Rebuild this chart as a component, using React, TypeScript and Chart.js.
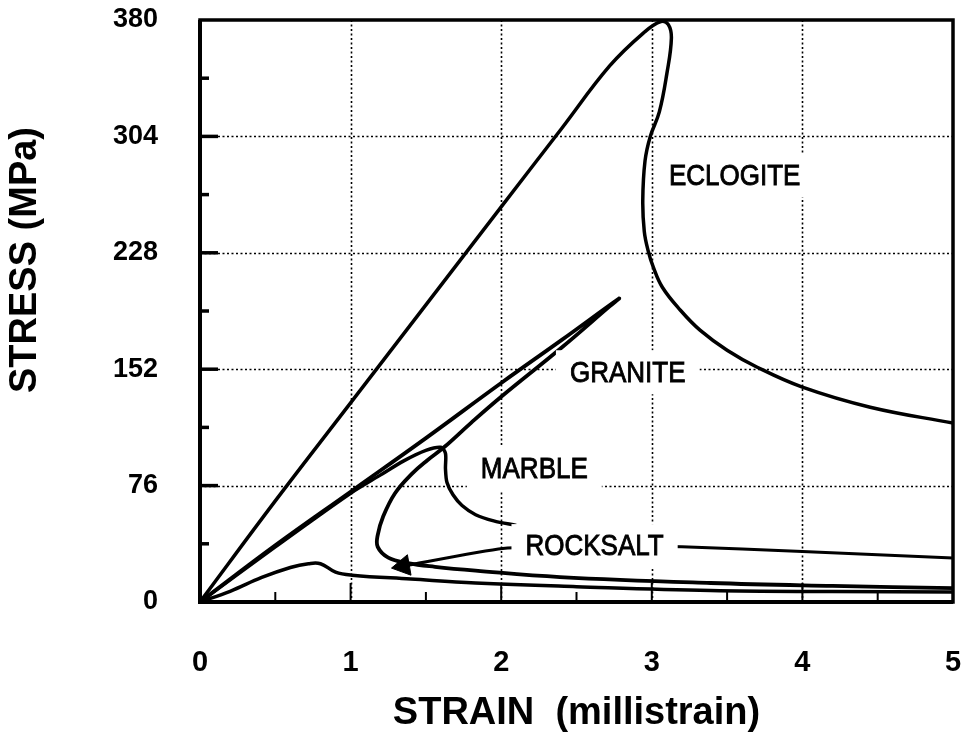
import React, { useEffect, useRef } from "react";
import { Chart, registerables } from "chart.js";

Chart.register(...registerables);

// ---- axis ticks ----
const X_TICKS = [0, 1, 2, 3, 4, 5];
const X_MINOR = [0.5, 1.5, 2.5, 3.5, 4.5];
const Y_TICKS = [0, 76, 152, 228, 304, 380];
const Y_MINOR = [38, 114, 190, 266, 342];

// ---- series (strain in millistrain, stress in MPa) ----
const eclogiteStrain = [0, 0.5, 1.0, 1.5, 2.0, 2.4, 2.72, 2.95, 3.06, 3.11, 3.13, 3.1, 3.05, 2.99, 2.955, 2.94, 2.95, 2.975, 3.01, 3.07, 3.19, 3.32, 3.5, 3.7, 4.0, 4.45, 5.0];
const eclogiteStress = [0, 66, 130, 194, 258, 309, 350, 372, 379, 377, 368, 345, 320, 304, 288, 262, 242, 229.6, 218.6, 205.5, 190.5, 177.5, 164.4, 153.3, 140.3, 127.2, 116.8];

const graniteStrain = [0, 0.5, 1.0, 1.5, 2.0, 2.4, 2.78, 2.72, 2.4, 2.0, 1.8, 1.62, 1.51, 1.41, 1.295, 1.215, 1.18, 1.18, 1.25, 1.38, 1.56, 1.83, 2.39, 3.39, 4.2, 5.0];
const graniteStress = [0, 37, 72, 107, 143, 171, 198, 193, 166, 134, 117, 101, 92.6, 84, 71, 55.5, 43.7, 36, 29, 25.4, 23, 20.5, 16.3, 12.4, 10.5, 9.1];

const marbleStrain = [0, 0.5, 1.0, 1.2, 1.35, 1.5, 1.6, 1.63, 1.63, 1.64, 1.68, 1.74, 1.83, 1.95, 2.1];
const marbleStress = [0, 36, 71, 83, 92, 99, 101, 97, 87, 78, 70, 63, 57, 53, 50];

const rocksaltStrain = [0, 0.2, 0.41, 0.6, 0.72, 0.8, 0.9, 1.01, 1.4, 1.83, 2.5, 3.39, 4.2, 5.0];
const rocksaltStress = [0, 7, 16, 22.5, 25, 25, 19.5, 17.5, 15, 12.4, 10, 7.5, 6.8, 6.5];

const pointerStrain = [5.0, 4.0, 3.2, 2.6, 2.01, 1.35];
const pointerStress = [28.7, 33, 36, 36.5, 35, 23.5];

// ---- in-plot annotations (data coordinates) ----
const LABELS = [
  { text: "ECLOGITE", x: 3.55, y: 278.6 },
  { text: "GRANITE", x: 2.84, y: 150 },
  { text: "MARBLE", x: 2.22, y: 87.4 },
  { text: "ROCKSALT", x: 2.62, y: 36.5 },
];

const X_TITLE = "STRAIN  (millistrain)";
const Y_TITLE = "STRESS (MPa)";

const pts = (xs: number[], ys: number[]) => xs.map((v, i) => ({ x: v, y: ys[i] }));

const framePlugin = {
  id: "frame",
  beforeDatasetsDraw(chart: any) {
    const { ctx, chartArea, scales } = chart;
    const { left, right, top, bottom } = chartArea;
    const xs = scales.x;
    const ys = scales.y;
    ctx.save();
    ctx.strokeStyle = "#000";
    ctx.lineWidth = 1.6;
    ctx.setLineDash([2, 2.5]);
    X_TICKS.slice(1, -1).forEach((v) => {
      const px = Math.round(xs.getPixelForValue(v)) + 0.5;
      ctx.beginPath();
      ctx.moveTo(px, top);
      ctx.lineTo(px, bottom);
      ctx.stroke();
    });
    Y_TICKS.slice(1, -1).forEach((v) => {
      const py = Math.round(ys.getPixelForValue(v)) + 0.5;
      ctx.beginPath();
      ctx.moveTo(left, py);
      ctx.lineTo(right, py);
      ctx.stroke();
    });
    ctx.restore();
  },
  afterDatasetsDraw(chart: any) {
    const { ctx, chartArea, scales } = chart;
    const { left, right, top, bottom } = chartArea;
    const xs = scales.x;
    const ys = scales.y;
    ctx.save();
    // label boxes + text
    ctx.font = '26px "Liberation Sans", Arial, sans-serif';
    LABELS.forEach((l) => {
      const px = xs.getPixelForValue(l.x);
      const py = ys.getPixelForValue(l.y);
      const w = ctx.measureText(l.text).width;
      ctx.fillStyle = "#fff";
      ctx.fillRect(px - w / 2 - 14, py - 22, w + 28, 44);
      ctx.save();
      ctx.translate(px, py);
      ctx.scale(1, 1.15);
      ctx.fillStyle = "#000";
      ctx.strokeStyle = "#000";
      ctx.lineWidth = 0.8;
      ctx.textAlign = "center";
      ctx.textBaseline = "middle";
      ctx.fillText(l.text, 0, 1);
      ctx.strokeText(l.text, 0, 1);
      ctx.restore();
    });
    // frame
    ctx.strokeStyle = "#000";
    ctx.lineWidth = 3.5;
    ctx.strokeRect(left, top, right - left, bottom - top);
    ctx.lineWidth = 4;
    ctx.beginPath();
    ctx.moveTo(left, top);
    ctx.lineTo(left, bottom);
    ctx.lineTo(right, bottom);
    ctx.stroke();
    // inward ticks
    ctx.lineWidth = 3.5;
    Y_TICKS.slice(1, -1).forEach((v) => {
      const py = ys.getPixelForValue(v);
      ctx.beginPath();
      ctx.moveTo(left, py);
      ctx.lineTo(left + 18, py);
      ctx.stroke();
    });
    Y_MINOR.forEach((v) => {
      const py = ys.getPixelForValue(v);
      ctx.beginPath();
      ctx.moveTo(left, py);
      ctx.lineTo(left + 9, py);
      ctx.stroke();
    });
    ctx.lineWidth = 2;
    X_TICKS.slice(1, -1).forEach((v) => {
      const px = xs.getPixelForValue(v);
      ctx.beginPath();
      ctx.moveTo(px, bottom);
      ctx.lineTo(px, bottom - 19);
      ctx.stroke();
    });
    X_MINOR.forEach((v) => {
      const px = xs.getPixelForValue(v);
      ctx.beginPath();
      ctx.moveTo(px, bottom);
      ctx.lineTo(px, bottom - 10);
      ctx.stroke();
    });
    // axis titles
    ctx.fillStyle = "#000";
    ctx.font = 'bold 38px "Liberation Sans", Arial, sans-serif';
    ctx.textAlign = "center";
    ctx.textBaseline = "middle";
    ctx.fillText(X_TITLE, (left + right) / 2, 714);
    ctx.save();
    ctx.translate(26, 260);
    ctx.rotate(-Math.PI / 2);
    ctx.fillText(Y_TITLE, 0, 0);
    ctx.restore();
    ctx.restore();
  },
};

const zeroPad = (s: any) => {
  s.paddingTop = 0;
  s.paddingBottom = 0;
  s.paddingLeft = 0;
  s.paddingRight = 0;
};

export default function App() {
  const ref = useRef<HTMLCanvasElement | null>(null);
  useEffect(() => {
    document.body.style.margin = "0";
    const canvas = ref.current;
    if (!canvas) return;
    const line = (data: any[], width: number, extra: any = {}) => ({
      data,
      borderColor: "#000",
      backgroundColor: "#000",
      borderWidth: width,
      pointRadius: 0,
      showLine: true,
      tension: 0.4,
      fill: false,
      ...extra,
    });
    const pointerData = pts(pointerStrain, pointerStress);
    const chart = new Chart(canvas, {
      type: "scatter",
      data: {
        datasets: [
          line(pts(eclogiteStrain, eclogiteStress), 3.5),
          line(pts(graniteStrain, graniteStress), 3.8),
          line(pts(marbleStrain, marbleStress), 3.5, { tension: 0.3 }),
          line(pts(rocksaltStrain, rocksaltStress), 3.5),
          line(pointerData, 3, {
            tension: 0.2,
            pointRadius: pointerData.map((_, i) => (i === pointerData.length - 1 ? 12 : 0)),
            pointStyle: "triangle",
            rotation: 260,
            pointBackgroundColor: "#000",
            pointBorderColor: "#000",
            pointBorderWidth: 1,
          }),
        ],
      },
      plugins: [framePlugin],
      options: {
        animation: false,
        responsive: false,
        events: [],
        layout: { padding: { top: 20, right: 17, left: 0, bottom: 0 } },
        plugins: { legend: { display: false }, tooltip: { enabled: false } },
        scales: {
          x: {
            type: "linear",
            min: 0,
            max: 5,
            afterFit: (s: any) => {
              s.height = 131;
              zeroPad(s);
            },
            afterBuildTicks: (s: any) => {
              s.ticks = X_TICKS.map((v) => ({ value: v }));
            },
            grid: { display: false, drawTicks: false },
            border: { display: false },
            ticks: {
              color: "#000",
              padding: 44,
              font: { family: '"Liberation Sans", Arial, sans-serif', size: 29, weight: "bold" },
              callback: (v: any) => String(v),
            },
          },
          y: {
            type: "linear",
            min: 0,
            max: 380,
            afterFit: (s: any) => {
              s.width = 200;
              zeroPad(s);
            },
            afterBuildTicks: (s: any) => {
              s.ticks = Y_TICKS.map((v) => ({ value: v }));
            },
            grid: { display: false, drawTicks: false },
            border: { display: false },
            ticks: {
              color: "#000",
              padding: 42,
              font: { family: '"Liberation Sans", Arial, sans-serif', size: 27, weight: "bold" },
              callback: (v: any) => String(v),
            },
          },
        },
      },
    });
    return () => chart.destroy();
  }, []);
  return (
    <div style={{ width: 970, height: 733 }}>
      <canvas ref={ref} width={970} height={733} />
    </div>
  );
}
